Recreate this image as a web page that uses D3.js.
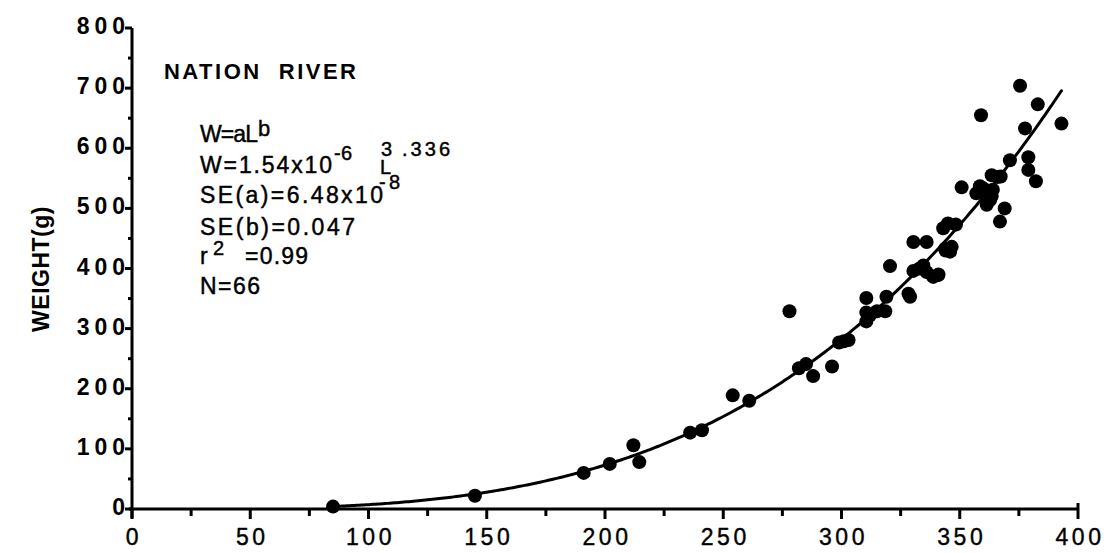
<!DOCTYPE html>
<html>
<head>
<meta charset="utf-8">
<script src="https://cdn.jsdelivr.net/npm/d3@7"></script>
<style>
    html, body { margin: 0; padding: 0; background: #fff; }
    svg { display: block; font-family: 'Liberation Sans', Arial, Helvetica, sans-serif; }
</style>
</head>
<body>
<div id="chart"></div>
<script>
// Fish length (mm) and weight (g)
const lengths = [
    85, 145, 191, 202, 212, 214.5, 236, 241, 254, 261,
    278, 282, 285, 288, 296, 299, 303, 310.5, 310.5, 310.5,
    315, 318.5, 319, 320.5, 328.3, 330.4, 330.4, 336, 334.6, 336,
    338.8, 340.9, 343.8, 346.6, 345.9, 343, 345, 348.4, 350.8, 357,
    361.4, 362.8, 364, 369, 367, 375.5, 359, 383, 393, 377.6,
    371.2, 379, 379, 382.2, 363.5, 367.3, 358.5, 363.5, 329, 341,
    344, 301, 366, 312, 333, 360
];
const weights = [
    4, 22, 60, 75, 106, 78, 127, 131, 189, 180,
    329, 234, 241, 221, 237, 277, 281, 351, 327, 312,
    329, 329, 353, 404, 358, 396, 444, 444, 405, 394,
    386, 389, 433, 436, 428, 467, 475, 473, 535, 525,
    506, 514, 531, 500, 478, 704, 655, 673, 641, 633,
    580, 585, 564, 545, 555, 553, 537, 520, 353, 390,
    430, 279, 552, 322, 400, 533
];

const xTicks = [0, 50, 100, 150, 200, 250, 300, 350, 400];
const xMinorTicks = [25, 75, 125, 175, 225, 275, 325, 375];
const yTicks = [0, 100, 200, 300, 400, 500, 600, 700, 800];
const yMinorTicks = [50, 150, 250, 350, 450, 550, 650, 750];

// fitted curve W = a L^b, as printed on the chart
const fitA = 1.54e-6;
const fitB = 3.336;
const fitRange = [85, 393];

const width = 1104;
const height = 553;

const svg = d3.select('#chart').append('svg')
    .attr('width', width)
    .attr('height', height);

const xScale = d3.scaleLinear().domain([0, 400]).range([132, 1078]);
const yScale = d3.scaleLinear().domain([0, 800]).range([509, 28]);

function drawAxes() {
    const axisGroup = svg.append('g').attr('stroke', '#000').attr('stroke-width', 3);

    axisGroup.append('line')
        .attr('x1', xScale(0)).attr('x2', xScale(0))
        .attr('y1', yScale(800)).attr('y2', yScale(0) + 9);

    axisGroup.append('line')
        .attr('x1', xScale(0) - 3).attr('x2', xScale(400))
        .attr('y1', yScale(0)).attr('y2', yScale(0));

    axisGroup.selectAll('.y-major')
        .data(yTicks)
        .enter()
        .append('line')
        .attr('x1', xScale(0) - 7).attr('x2', xScale(0))
        .attr('y1', (d) => yScale(d)).attr('y2', (d) => yScale(d));

    axisGroup.selectAll('.y-minor')
        .data(yMinorTicks)
        .enter()
        .append('line')
        .attr('x1', xScale(0) - 4).attr('x2', xScale(0))
        .attr('y1', (d) => yScale(d)).attr('y2', (d) => yScale(d));

    axisGroup.selectAll('.x-major')
        .data(xTicks)
        .enter()
        .append('line')
        .attr('x1', (d) => xScale(d)).attr('x2', (d) => xScale(d))
        .attr('y1', (d) => d === 400 ? yScale(0) - 6 : yScale(0))
        .attr('y2', yScale(0) + 10);

    axisGroup.selectAll('.x-minor')
        .data(xMinorTicks)
        .enter()
        .append('line')
        .attr('x1', (d) => xScale(d)).attr('x2', (d) => xScale(d))
        .attr('y1', yScale(0)).attr('y2', yScale(0) + 7);

    svg.append('g')
        .selectAll('text')
        .data(yTicks)
        .enter()
        .append('text')
        .attr('x', xScale(0) - 2)
        .attr('y', (d) => yScale(d) + 6)
        .attr('text-anchor', 'end')
        .attr('font-size', 23)
        .attr('font-weight', 'bold')
        .attr('letter-spacing', 5)
        .text((d) => d);

    svg.append('g')
        .selectAll('text')
        .data(xTicks)
        .enter()
        .append('text')
        .attr('x', (d) => xScale(d) + 2)
        .attr('y', 545)
        .attr('text-anchor', 'middle')
        .attr('font-size', 23)
        .attr('letter-spacing', 3.5)
        .attr('stroke', '#000')
        .attr('stroke-width', 0.4)
        .text((d) => d);

    svg.append('text')
        .attr('transform', 'translate(49,269) rotate(-90)')
        .attr('text-anchor', 'middle')
        .attr('font-size', 23)
        .attr('font-weight', 'bold')
        .attr('letter-spacing', 0.5)
        .text('WEIGHT(g)');
}

function drawFit() {
    const fitLengths = d3.range(fitRange[0], fitRange[1] + 0.5, 1);
    const lineGenerator = d3.line()
        .x((d) => xScale(d))
        .y((d) => yScale(fitA * Math.pow(d, fitB)));

    svg.append('path')
        .datum(fitLengths)
        .attr('fill', 'none')
        .attr('stroke', '#000')
        .attr('stroke-width', 3)
        .attr('stroke-linecap', 'round')
        .attr('d', lineGenerator);
}

function drawPoints() {
    svg.append('g')
        .selectAll('circle')
        .data(d3.zip(lengths, weights))
        .enter()
        .append('circle')
        .attr('cx', (d) => xScale(d[0]))
        .attr('cy', (d) => yScale(d[1]))
        .attr('r', 7)
        .attr('fill', '#000');
}

function addRun(label, x, y, size, length, weight) {
    const node = svg.append('text')
        .attr('x', x)
        .attr('y', y)
        .attr('font-size', size)
        .attr('font-weight', weight || 'normal')
        .attr('stroke', '#000')
        .attr('stroke-width', weight === 'bold' ? 0 : 0.45)
        .style('white-space', 'pre')
        .text(label);
    if (length) {
        node.attr('textLength', length).attr('lengthAdjust', 'spacing');
    }
}

function drawAnnotation() {
    addRun('NATION  RIVER', 164, 79, 22, 192, 'bold');

    addRun('W=aL', 200, 142, 23, 58);
    addRun('b', 258, 136, 22);

    addRun('W=1.54x10', 200, 173, 23, 132);
    addRun('-6', 334, 160, 20, 18);
    addRun('L', 380, 174, 20);
    addRun('3', 381, 156, 20);
    addRun('.336', 402, 156, 20, 48);

    addRun('SE(a)=6.48x10', 200, 203, 23, 183);
    addRun('-8', 379, 189, 20, 21);

    addRun('SE(b)=0.047', 200, 235, 23, 155);

    addRun('r', 200, 264, 23);
    addRun('2', 213, 255, 20);
    addRun('=0.99', 245, 264, 23, 63);

    addRun('N=66', 200, 294, 23, 60);
}

drawAxes();
drawFit();
drawPoints();
drawAnnotation();
</script>
</body>
</html>
